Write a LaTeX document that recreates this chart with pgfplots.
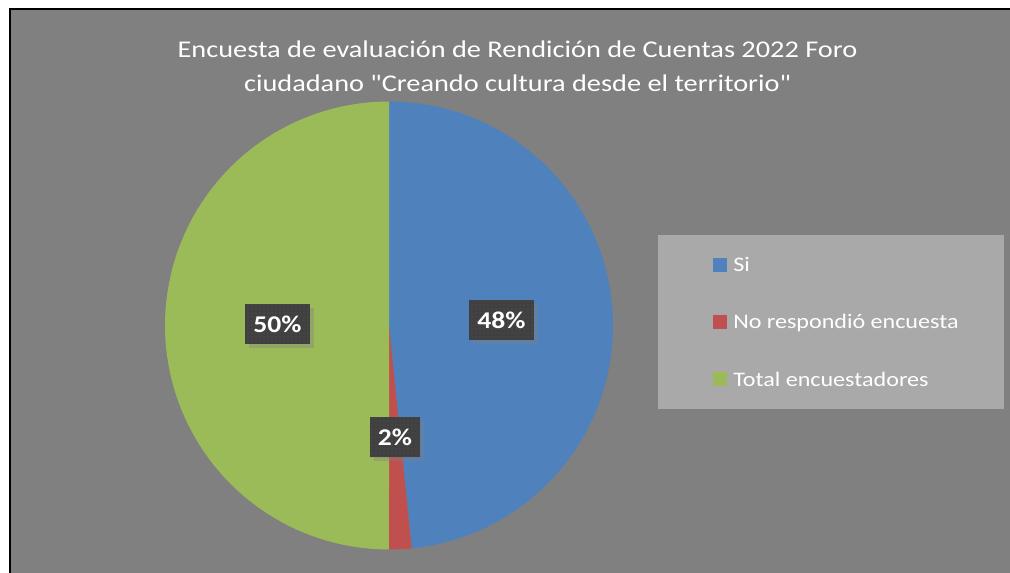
\documentclass[border=0pt]{standalone}
\usepackage{pgfplots}
\pgfplotsset{compat=1.18}
\usepackage{pgfplotstable}
\usepackage{graphicx}
\usepackage{fontspec}
\setmainfont{Carlito}
\newfontfamily\tf{Carlito}
\usetikzlibrary{shadows,patterns}
\definecolor{bg}{RGB}{128,128,128}
\definecolor{legbg}{RGB}{169,169,169}
\definecolor{cblue}{RGB}{79,129,189}
\definecolor{cred}{RGB}{192,80,77}
\definecolor{cgreen}{RGB}{155,187,89}
\definecolor{lab}{RGB}{64,64,64}
\definecolor{labdot}{RGB}{88,88,88}
\pgfplotstableread{
label value
Si 30
No 1
Total 31
}\piedata
\begin{document}%
\begin{tikzpicture}
\pgfplotstablegetelem{0}{value}\of\piedata \let\va\pgfplotsretval
\pgfplotstablegetelem{1}{value}\of\piedata \let\vb\pgfplotsretval
\pgfplotstablegetelem{2}{value}\of\piedata \let\vc\pgfplotsretval
\pgfmathsetmacro\tot{\va+\vb+\vc}
\pgfmathsetmacro\aA{90}
\pgfmathsetmacro\aB{90-360*\va/\tot}
\pgfmathsetmacro\aC{\aB-360*\vb/\tot}
\pgfmathsetmacro\aD{\aC-360*\vc/\tot}
\begin{axis}[
  scale only axis, width=757.5pt, height=429.75pt,
  xmin=0, xmax=1010, ymin=0, ymax=573,
  hide axis, clip=false, ticks=none,
  anchor=south west, at={(0pt,0pt)},
]
% background
\fill[white] (-10,-10) rectangle (1020,583);
\fill[bg] (10,-10) rectangle (1020,563);
\draw[black, line width=1.5pt] (9.5,-10) -- (9.5,563.5) -- (1020,563.5);
% title
\node[anchor=base, text=white, inner sep=0pt, font=\tf\fontsize{18}{22}\selectfont] at (517.5,515) {\scalebox{1.18}[1]{Encuesta de evaluación de Rendición de Cuentas 2022 Foro}};
\node[anchor=base, text=white, inner sep=0pt, font=\tf\fontsize{18}{22}\selectfont] at (517.5,481) {\scalebox{1.18}[1]{ciudadano "Creando cultura desde el territorio"}};
% pie
\addplot[draw=none, fill=cblue, domain=\aB:\aA, samples=150, variable=\t] ({389+224*cos(\t)},{247.5+224*sin(\t)}) -- (389,247.5) -- cycle;
\addplot[draw=none, fill=cred, domain=\aC:\aB, samples=20, variable=\t] ({389+224*cos(\t)},{247.5+224*sin(\t)}) -- (389,247.5) -- cycle;
\addplot[draw=none, fill=cgreen, domain=\aD:\aC, samples=150, variable=\t] ({389+224*cos(\t)},{247.5+224*sin(\t)}) -- (389,247.5) -- cycle;
% data labels
\tikzset{dl/.style={fill=lab, text=white, font=\tf\fontsize{18}{22}\selectfont\bfseries, minimum height=30pt, inner xsep=6.2pt,
  drop shadow={shadow xshift=3pt, shadow yshift=-3pt, opacity=0.35},
  postaction={pattern=dots, pattern color=labdot}}}
\node[dl] at (501.5,253) {\scalebox{1.15}[1]{48\%}};
\node[dl] at (277.5,249) {\scalebox{1.15}[1]{50\%}};
\node[dl] at (395,135.5) {\scalebox{1.15}[1]{2\%}};
% legend
\fill[legbg] (658,164) rectangle (1004,338);
\fill[cblue] (713,301) rectangle (727,315);
\fill[cred] (713,244) rectangle (727,258);
\fill[cgreen] (713,187) rectangle (727,201);
\node[anchor=base west, text=white, inner sep=0pt, font=\tf\fontsize{15.5}{19}\selectfont] at (733,301) {\scalebox{1.165}[1]{Si}};
\node[anchor=base west, text=white, inner sep=0pt, font=\tf\fontsize{15.5}{19}\selectfont] at (733,244) {\scalebox{1.165}[1]{No respondió encuesta}};
\node[anchor=base west, text=white, inner sep=0pt, font=\tf\fontsize{15.5}{19}\selectfont] at (733,186) {\scalebox{1.165}[1]{Total encuestadores}};
\end{axis}
\pgfresetboundingbox
\useasboundingbox (0pt,0pt) rectangle (757.5pt,429.75pt);
\end{tikzpicture}%
\end{document}
